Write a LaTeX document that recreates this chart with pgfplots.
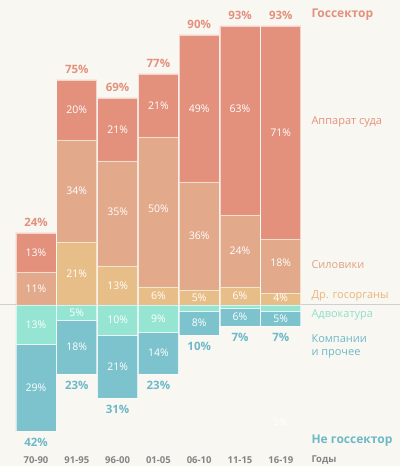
\documentclass[border=0pt]{standalone}
\usepackage{pgfplots}
\pgfplotsset{compat=1.18}
\usepackage{fontspec}
\setmainfont{Open Sans}
\definecolor{bg}{HTML}{F8F7F2}
\definecolor{app}{HTML}{E3917C}
\definecolor{sil}{HTML}{E2A98B}
\definecolor{dr}{HTML}{E8BE88}
\definecolor{adv}{HTML}{95E5D2}
\definecolor{komp}{HTML}{7DC3CD}
\definecolor{appT}{HTML}{E3917C}
\definecolor{silT}{HTML}{E0A283}
\definecolor{drT}{HTML}{EBB57A}
\definecolor{advT}{HTML}{8DE0CB}
\definecolor{kompT}{HTML}{6DB9C8}
\definecolor{grayT}{HTML}{858585}
\definecolor{linegray}{HTML}{CFCFCF}
\pgfplotsset{
  base/.style={scale only axis, width=285.6pt, height=450pt,
    xmin=-0.5, xmax=6.5, ymin=-50, ymax=100,
    axis line style={draw=none}, ytick=\empty, clip=false,
    at={(15.6pt,11pt)}, anchor=south west,
    /pgf/number format/assume math mode=true},
  seg/.style={fill=#1, draw=white, draw opacity=0.6, line width=0.6pt},
  lbl/.style={only marks, mark=none, point meta=explicit,
    nodes near coords={\pgfmathprintnumber[assume math mode=true]{\pgfplotspointmeta}\%},
    every node near coord/.append style={anchor=center, #1}},
}
\begin{document}
\begin{tikzpicture}[x=1pt,y=1pt]
\useasboundingbox (0,0) rectangle (400,466);
\fill[bg] (0,0) rectangle (400,466);
\draw[linegray, line width=0.9pt] (0,161.5) -- (400,161.5);
% positive (gossektor)
\begin{axis}[base, xtick=\empty, ybar stacked, bar width=40pt]
\addplot[seg=dr] coordinates {(0,0) (1,21) (2,13) (3,6) (4,5) (5,6) (6,4)};
\addplot[seg=sil] coordinates {(0,11) (1,34) (2,35) (3,50) (4,36) (5,24) (6,18)};
\addplot[seg=app] coordinates {(0,13) (1,20) (2,21) (3,21) (4,49) (5,63) (6,71)};
\end{axis}
% negative (ne gossektor)
\begin{axis}[base, xtick=\empty, ybar stacked, bar width=40pt]
\addplot[seg=adv] coordinates {(0,-13) (1,-5) (2,-10) (3,-9) (4,-2) (5,-1) (6,-2)};
\addplot[seg=komp] coordinates {(0,-29) (1,-18) (2,-21) (3,-14) (4,-8) (5,-6) (6,-5)};
\end{axis}
% labels
\begin{axis}[base, xtick={0,...,6},
  xticklabels={70-90,91-95,96-00,01-05,06-10,11-15,16-19},
  major tick length=0pt,
  xticklabel style={font=\bfseries\fontsize{9.5}{11}\selectfont, text=grayT, anchor=center, yshift=-5pt}]
\addplot[lbl={text=white, font=\fontsize{10.5}{12}\selectfont}] table[meta=m] {
x y m
0 17.5 13
0 5.5 11
1 10.5 21
1 38 34
1 65 20
2 6.5 13
2 31 35
2 58.5 21
3 3 6
3 32 50
3 66.5 21
4 2.5 5
4 23 36
4 65.5 49
5 3 6
5 18 24
5 65.5 63
6 2.3 4
6 14 18
6 57.5 71
0 -6.5 13
0 -27.5 29
1 -2.5 5
1 -14 18
2 -5 10
2 -20.5 21
3 -4.5 9
3 -16 14
4 -6 8
5 -4 6
6 -4.5 5
6 -39 5
};
\addplot[lbl={text=appT, font=\bfseries\fontsize{11.5}{13}\selectfont, yshift=11pt}] table[meta=m] {
x y m
0 24 24
1 75 75
2 69 69
3 77 77
4 90 90
5 93 93
6 93 93
};
\addplot[lbl={text=kompT, font=\bfseries\fontsize{11.5}{13}\selectfont, yshift=-11pt}] table[meta=m] {
x y m
0 -42 42
1 -23 23
2 -31 31
3 -23 23
4 -10 10
5 -7 7
6 -7 7
};
\end{axis}
% right-side legend texts
\node[anchor=west, text=appT, font=\bfseries\fontsize{12}{14}\selectfont] at (308,451) {Госсектор};
\node[anchor=west, text=appT, font=\fontsize{11}{13}\selectfont] at (308,344) {Аппарат суда};
\node[anchor=west, text=silT, font=\fontsize{11}{13}\selectfont] at (308,201) {Силовики};
\node[anchor=west, text=drT, font=\fontsize{11}{13}\selectfont] at (308,170) {Др. госорганы};
\node[anchor=west, text=advT, font=\fontsize{11}{13}\selectfont] at (308,151) {Адвокатура};
\node[anchor=west, text=kompT, font=\fontsize{11}{13}\selectfont, align=left] at (308,120) {Компании\\и прочее};
\node[anchor=west, text=kompT, font=\bfseries\fontsize{12}{14}\selectfont] at (308,25) {Не госсектор};
\node[anchor=west, text=grayT, font=\bfseries\fontsize{9.5}{11}\selectfont] at (308,6) {Годы};
\end{tikzpicture}
\end{document}
